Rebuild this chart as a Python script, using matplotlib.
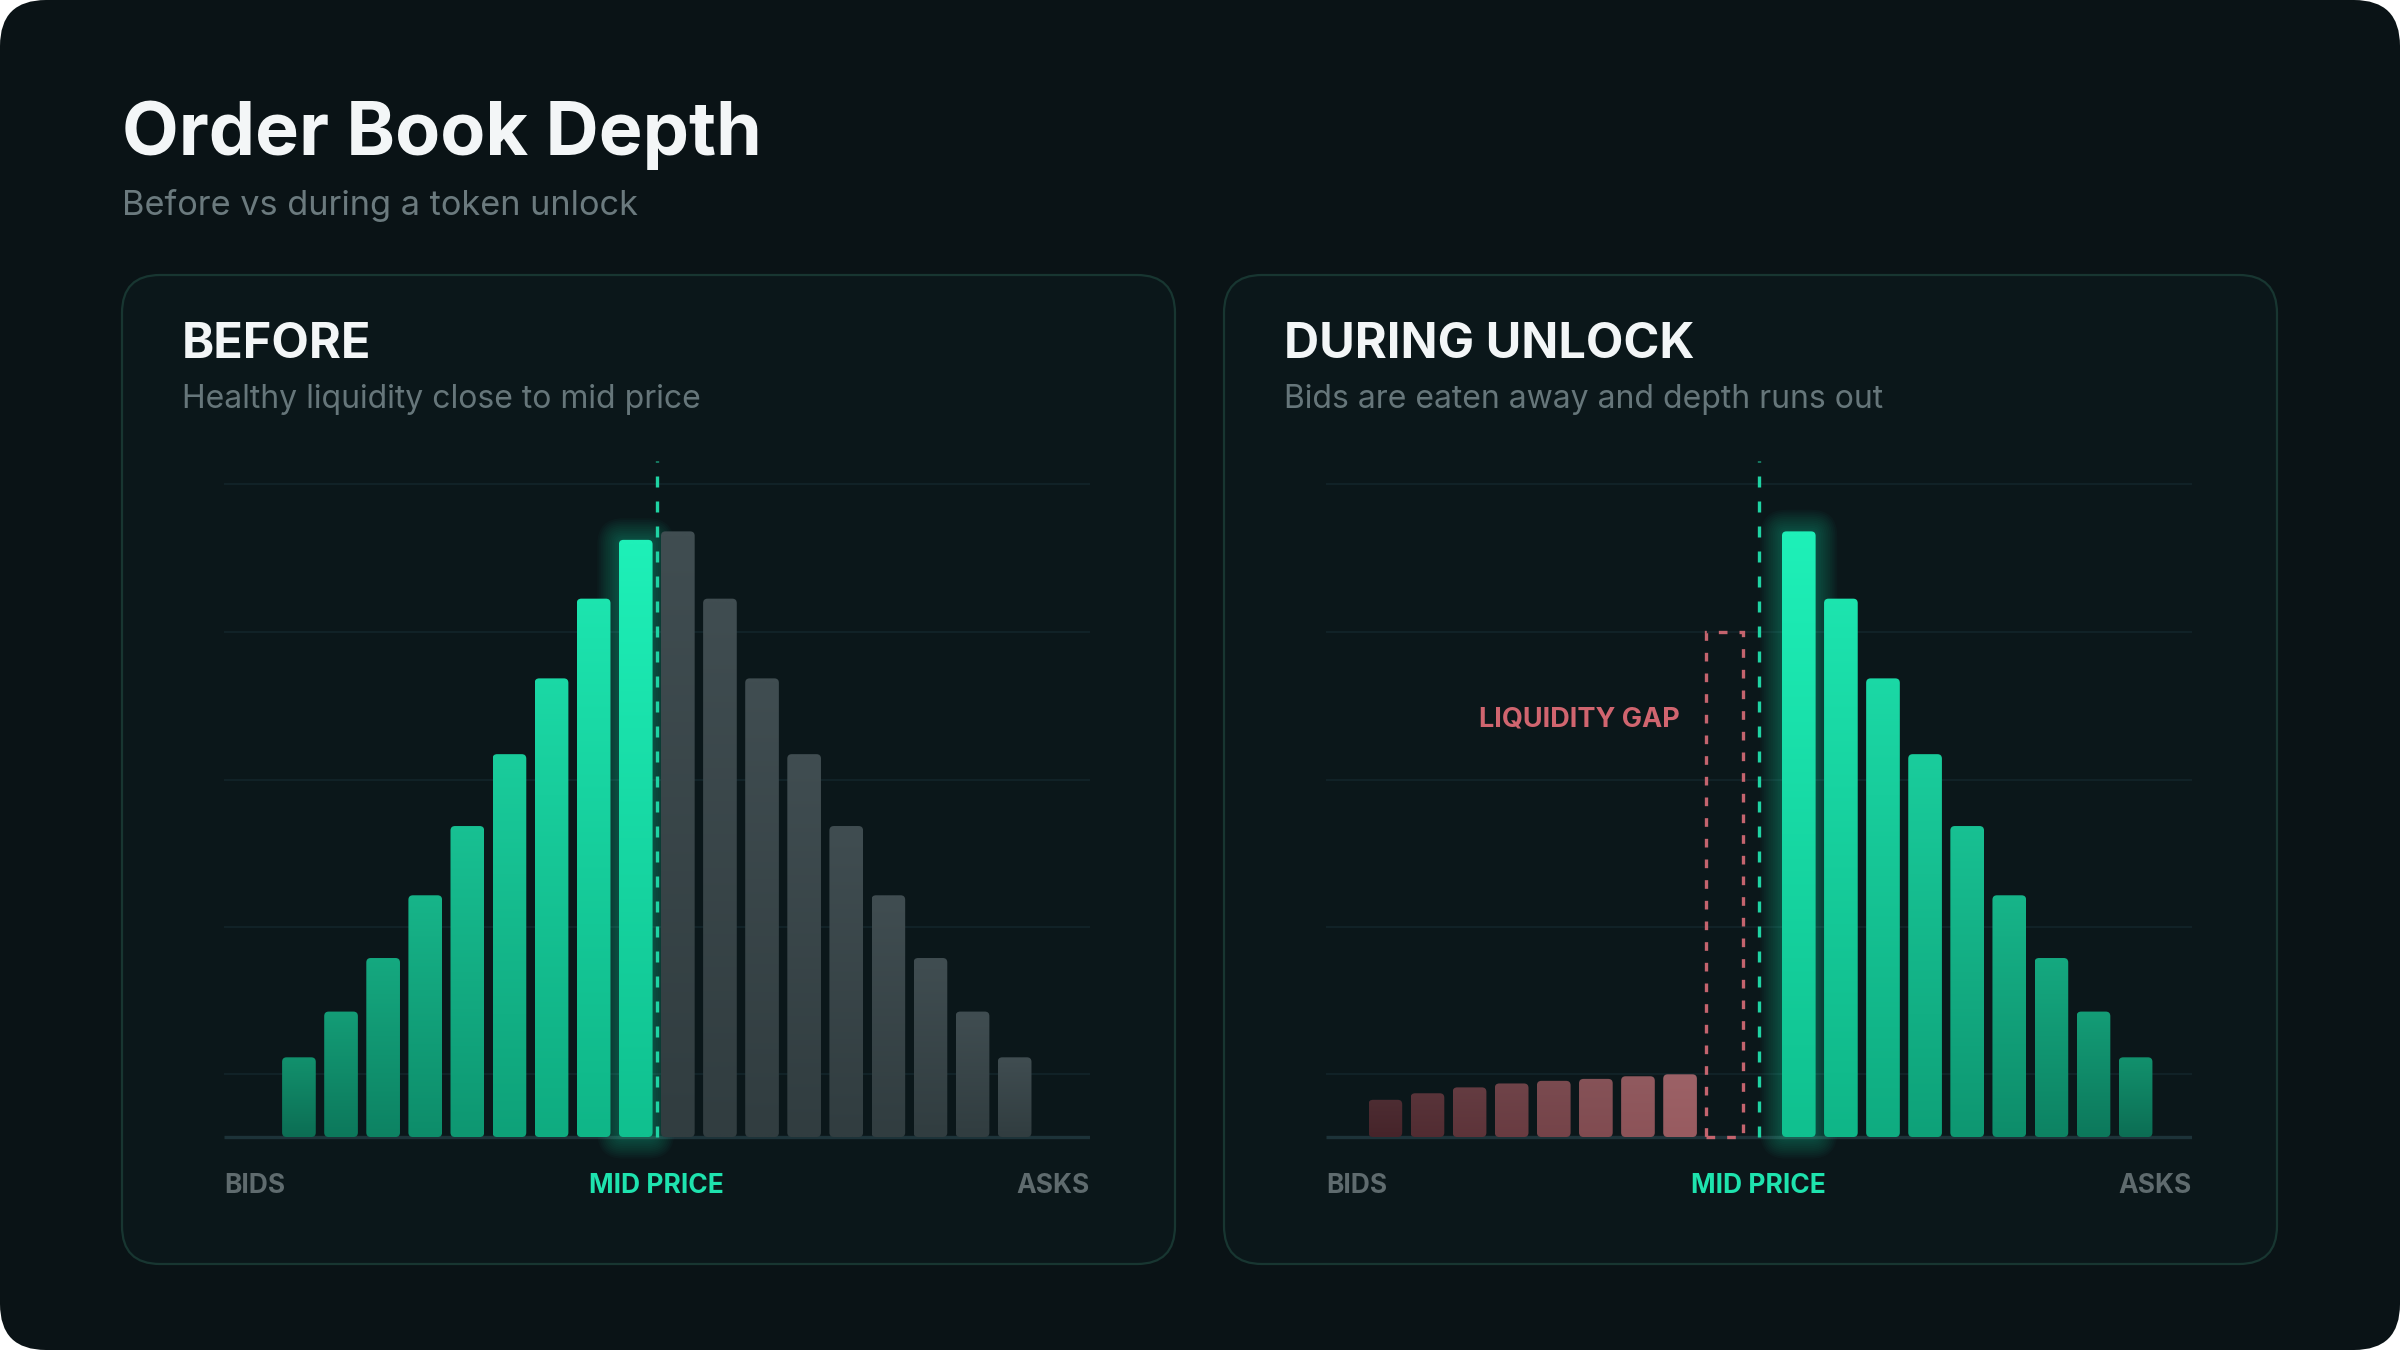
import numpy as np
import matplotlib.pyplot as plt
from matplotlib.patches import FancyBboxPatch, Rectangle
from matplotlib.colors import to_rgb

plt.rcParams['font.family'] = ['Inter', 'DejaVu Sans']

# depth per price level, in % of the top grid line
before_bids = [12.2, 19.2, 27.4, 37.0, 47.6, 58.6, 70.2, 82.4, 91.4]
before_asks = [92.7, 82.4, 70.2, 58.6, 47.6, 37.0, 27.4, 19.2, 12.2]
unlock_bids = [5.7, 6.7, 7.6, 8.2, 8.6, 8.9, 9.3, 9.6]
unlock_asks = [92.7, 82.4, 70.2, 58.6, 47.6, 37.0, 27.4, 19.2, 12.2]
gap_depth = 77.3
grid_levels = [9.6, 32.1, 54.7, 77.3, 100]
side_labels = ["BIDS", "MID PRICE", "ASKS"]
panel_titles = ["BEFORE", "DURING UNLOCK"]
panel_subs = ["Healthy liquidity close to mid price",
              "Bids are eaten away and depth runs out"]

W, H = 2400, 1350
BG = "#0a1316"
PANEL = "#0b171a"
EDGE = "#183631"
GREEN = "#1ee6b2"
GRID = "#13252a"
BASE = "#1d3339"
MUTED = "#5f6b6e"

XLIM = (-1.78, 18.79)
YLIM = (-8, 105)
AX_W, AX_H = 866, 738.3
sx = AX_W / (XLIM[1] - XLIM[0])
sy = AX_H / (YLIM[1] - YLIM[0])
M = sx / sy
BAR_W = 0.8
MID = 8.5


def mix(a, b, t):
    a = np.array(to_rgb(a))
    b = np.array(to_rgb(b))
    return tuple((1 - t) * a + t * b)


def rbar(ax, x, h, c_bot, c_top, glow=False):
    r = 4.5 / sx
    x0 = x - BAR_W / 2
    if glow:
        for k in range(1, 13):
            p = k * 1.8 / sx
            ax.add_patch(FancyBboxPatch((x0, 0), BAR_W, h,
                                        boxstyle=f"round,pad={p},rounding_size={r + p}",
                                        mutation_aspect=M, fc=GREEN, ec="none",
                                        alpha=0.028, zorder=2, clip_on=False))
    patch = FancyBboxPatch((x0, 0), BAR_W, h,
                           boxstyle=f"round,pad=0,rounding_size={r}",
                           mutation_aspect=M, fc="none", ec="none", zorder=3)
    ax.add_patch(patch)
    t = np.linspace(0, 1, 64)[:, None]
    cols = (1 - t) * np.array(to_rgb(c_bot)) + t * np.array(to_rgb(c_top))
    im = ax.imshow(cols[:, None, :], extent=(x0, x0 + BAR_W, 0, h), origin="lower",
                   aspect="auto", zorder=3, interpolation="bilinear")
    im.set_clip_path(patch)


def green(ax, x, h, s, glow=False):
    bot = mix("#0c6e54", "#10c08f", s)
    top = mix("#12916d", "#1ef0b8", s)
    rbar(ax, x, h, bot, top, glow)


fig = plt.figure(figsize=(24, 13.5), dpi=100, facecolor="white")
bg = fig.add_axes([0, 0, 1, 1])
bg.set_xlim(0, W)
bg.set_ylim(H, 0)
bg.axis("off")

bg.add_patch(FancyBboxPatch((0, 0), W, H, boxstyle="round,pad=0,rounding_size=46",
                            fc=BG, ec="none"))
bg.text(122, 155, "Order Book Depth", fontsize=53, fontweight="bold",
        color="#f3f6f7", va="baseline")
bg.text(122, 215, "Before vs during a token unlock", fontsize=24.7,
        color="#6b7a7e", va="baseline")

axes = []
for i, px0 in enumerate([122, 1224]):
    bg.add_patch(FancyBboxPatch((px0, 275), 1053, 989,
                                boxstyle="round,pad=0,rounding_size=38",
                                fc=PANEL, ec=EDGE, lw=1.6))
    bg.text(px0 + 60, 358, panel_titles[i], fontsize=35, fontweight="bold",
            color="#f3f6f7", va="baseline")
    bg.text(px0 + 60, 408, panel_subs[i], fontsize=23, color="#66767a",
            va="baseline")
    ax = fig.add_axes([(px0 + 102) / W, (H - 1189.3) / H, AX_W / W, AX_H / H])
    ax.hlines(grid_levels, XLIM[0], XLIM[1], color=GRID, lw=1.2, zorder=1)
    ax.hlines(0, XLIM[0], XLIM[1], color=BASE, lw=2.4, zorder=2)
    axes.append(ax)

# ---- before ----
ax = axes[0]
nb = len(before_bids)
for k, h in enumerate(before_bids):
    green(ax, k, h, k / (nb - 1), glow=(k == nb - 1))
for k, h in enumerate(before_asks):
    rbar(ax, nb + k, h, "#313d40", "#404d51")

# ---- during unlock ----
ax = axes[1]
nr = len(unlock_bids)
for k, h in enumerate(unlock_bids):
    c = mix("#46242a", "#985b60", k / (nr - 1))
    rbar(ax, k - 0.37, h, c, mix(c, "#ffffff", 0.04))
for k, h in enumerate(unlock_asks):
    green(ax, MID + 0.95 + k, h, 1 - k / (len(unlock_asks) - 1), glow=(k == 0))
gap_x0, gap_x1 = MID - 1.26, MID - 0.37
ax.add_patch(Rectangle((gap_x0, 0), gap_x1 - gap_x0, gap_depth, fill=False,
                       ec="#c4646e", lw=2.4, ls=(0, (2.6, 3.6)), zorder=4))
ax.text(gap_x0 - 0.62, 62.8, "LIQUIDITY GAP", fontsize=19.5, fontweight="bold",
        color="#d0656f", ha="right", va="baseline")

for ax in axes:
    ax.plot([MID, MID], [0, 103.4], color="#1fd3a3", lw=2.4, ls=(0, (3.3, 4.2)),
            zorder=6, clip_on=False)
    ax.text(XLIM[0], -8.6, side_labels[0], fontsize=19, fontweight="bold",
            color=MUTED, ha="left", va="baseline", clip_on=False)
    ax.text(MID, -8.6, side_labels[1], fontsize=19, fontweight="bold",
            color="#1ee3ae", ha="center", va="baseline", clip_on=False)
    ax.text(XLIM[1], -8.6, side_labels[2], fontsize=19, fontweight="bold",
            color=MUTED, ha="right", va="baseline", clip_on=False)
    ax.set_xlim(*XLIM)
    ax.set_ylim(*YLIM)
    ax.axis("off")

fig.savefig("out.png", dpi=100, facecolor="white")
